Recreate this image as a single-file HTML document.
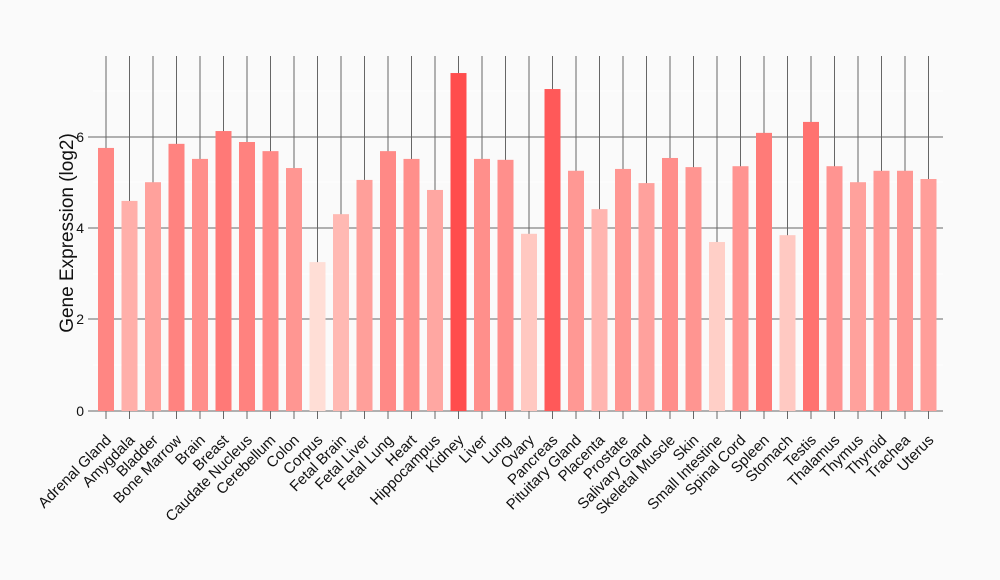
<!DOCTYPE html><html><head><style>body{margin:0;background:#fafafa}svg{display:block}text{font-family:"Liberation Sans",sans-serif;fill:#111}</style></head><body>
<svg width="1000" height="580" viewBox="0 0 1000 580">
<rect width="1000" height="580" fill="#fafafa"/>
<g stroke="#fff" stroke-width="1"><line x1="93" x2="943" y1="365" y2="365"/><line x1="93" x2="943" y1="274" y2="274"/><line x1="93" x2="943" y1="182" y2="182"/><line x1="93" x2="943" y1="91" y2="91"/></g>
<g stroke="#666" stroke-width="1">
<line x1="88" x2="943" y1="137" y2="137"/><line x1="88" x2="943" y1="228" y2="228"/><line x1="88" x2="943" y1="319" y2="319"/><line x1="88" x2="943" y1="411" y2="411"/>
<line x1="106" x2="106" y1="56" y2="419"/><line x1="129.5" x2="129.5" y1="56" y2="419"/><line x1="153" x2="153" y1="56" y2="419"/><line x1="176.5" x2="176.5" y1="56" y2="419"/><line x1="200" x2="200" y1="56" y2="419"/><line x1="223.5" x2="223.5" y1="56" y2="419"/><line x1="247" x2="247" y1="56" y2="419"/><line x1="270.5" x2="270.5" y1="56" y2="419"/><line x1="294" x2="294" y1="56" y2="419"/><line x1="317.5" x2="317.5" y1="56" y2="419"/><line x1="341" x2="341" y1="56" y2="419"/><line x1="364.5" x2="364.5" y1="56" y2="419"/><line x1="388" x2="388" y1="56" y2="419"/><line x1="411.5" x2="411.5" y1="56" y2="419"/><line x1="435" x2="435" y1="56" y2="419"/><line x1="458.5" x2="458.5" y1="56" y2="419"/><line x1="482" x2="482" y1="56" y2="419"/><line x1="505.5" x2="505.5" y1="56" y2="419"/><line x1="529" x2="529" y1="56" y2="419"/><line x1="552.5" x2="552.5" y1="56" y2="419"/><line x1="576" x2="576" y1="56" y2="419"/><line x1="599.5" x2="599.5" y1="56" y2="419"/><line x1="623" x2="623" y1="56" y2="419"/><line x1="646.5" x2="646.5" y1="56" y2="419"/><line x1="670" x2="670" y1="56" y2="419"/><line x1="693.5" x2="693.5" y1="56" y2="419"/><line x1="717" x2="717" y1="56" y2="419"/><line x1="740.5" x2="740.5" y1="56" y2="419"/><line x1="764" x2="764" y1="56" y2="419"/><line x1="787.5" x2="787.5" y1="56" y2="419"/><line x1="811" x2="811" y1="56" y2="419"/><line x1="834.5" x2="834.5" y1="56" y2="419"/><line x1="858" x2="858" y1="56" y2="419"/><line x1="881.5" x2="881.5" y1="56" y2="419"/><line x1="905" x2="905" y1="56" y2="419"/><line x1="928.5" x2="928.5" y1="56" y2="419"/>
</g>
<g transform="translate(0,411) scale(1,-45.67)">
<rect x="98" width="16" height="5.76" fill="rgb(255,134,131)"/>
<rect x="121.5" width="16" height="4.6" fill="rgb(255,175,170)"/>
<rect x="145" width="16" height="5.01" fill="rgb(255,161,156)"/>
<rect x="168.5" width="16" height="5.85" fill="rgb(255,131,128)"/>
<rect x="192" width="16" height="5.52" fill="rgb(255,143,139)"/>
<rect x="215.5" width="16" height="6.13" fill="rgb(255,121,119)"/>
<rect x="239" width="16" height="5.89" fill="rgb(255,130,127)"/>
<rect x="262.5" width="16" height="5.69" fill="rgb(255,137,134)"/>
<rect x="286" width="16" height="5.32" fill="rgb(255,150,146)"/>
<rect x="309.5" width="16" height="3.26" fill="rgb(255,222,214)"/>
<rect x="333" width="16" height="4.31" fill="rgb(255,185,179)"/>
<rect x="356.5" width="16" height="5.06" fill="rgb(255,159,154)"/>
<rect x="380" width="16" height="5.69" fill="rgb(255,137,134)"/>
<rect x="403.5" width="16" height="5.52" fill="rgb(255,143,139)"/>
<rect x="427" width="16" height="4.84" fill="rgb(255,167,162)"/>
<rect x="450.5" width="16" height="7.4" fill="rgb(255,77,77)"/>
<rect x="474" width="16" height="5.52" fill="rgb(255,143,139)"/>
<rect x="497.5" width="16" height="5.5" fill="rgb(255,143,140)"/>
<rect x="521" width="16" height="3.88" fill="rgb(255,200,193)"/>
<rect x="544.5" width="16" height="7.05" fill="rgb(255,89,89)"/>
<rect x="568" width="16" height="5.26" fill="rgb(255,152,148)"/>
<rect x="591.5" width="16" height="4.42" fill="rgb(255,181,176)"/>
<rect x="615" width="16" height="5.3" fill="rgb(255,150,146)"/>
<rect x="638.5" width="16" height="4.99" fill="rgb(255,161,157)"/>
<rect x="662" width="16" height="5.54" fill="rgb(255,142,139)"/>
<rect x="685.5" width="16" height="5.34" fill="rgb(255,149,145)"/>
<rect x="709" width="16" height="3.7" fill="rgb(255,207,199)"/>
<rect x="732.5" width="16" height="5.36" fill="rgb(255,148,145)"/>
<rect x="756" width="16" height="6.09" fill="rgb(255,123,120)"/>
<rect x="779.5" width="16" height="3.85" fill="rgb(255,201,194)"/>
<rect x="803" width="16" height="6.33" fill="rgb(255,114,112)"/>
<rect x="826.5" width="16" height="5.36" fill="rgb(255,148,145)"/>
<rect x="850" width="16" height="5.01" fill="rgb(255,161,156)"/>
<rect x="873.5" width="16" height="5.26" fill="rgb(255,152,148)"/>
<rect x="897" width="16" height="5.26" fill="rgb(255,152,148)"/>
<rect x="920.5" width="16" height="5.08" fill="rgb(255,158,154)"/>
</g>
<g font-size="14" text-anchor="end">
<text x="84" y="142">6</text><text x="84" y="233">4</text><text x="84" y="324">2</text><text x="84" y="416">0</text>
</g>
<text transform="translate(73,233) rotate(-90)" font-size="19" text-anchor="middle">Gene Expression (log2)</text>
<g font-size="15" text-anchor="end" transform="translate(4,-2)">
<text transform="translate(108,443) rotate(-45)">Adrenal Gland</text>
<text transform="translate(131.5,443) rotate(-45)">Amygdala</text>
<text transform="translate(155,443) rotate(-45)">Bladder</text>
<text transform="translate(178.5,443) rotate(-45)">Bone Marrow</text>
<text transform="translate(202,443) rotate(-45)">Brain</text>
<text transform="translate(225.5,443) rotate(-45)">Breast</text>
<text transform="translate(249,443) rotate(-45)">Caudate Nucleus</text>
<text transform="translate(272.5,443) rotate(-45)">Cerebellum</text>
<text transform="translate(296,443) rotate(-45)">Colon</text>
<text transform="translate(319.5,443) rotate(-45)">Corpus</text>
<text transform="translate(343,443) rotate(-45)">Fetal Brain</text>
<text transform="translate(366.5,443) rotate(-45)">Fetal Liver</text>
<text transform="translate(390,443) rotate(-45)">Fetal Lung</text>
<text transform="translate(413.5,443) rotate(-45)">Heart</text>
<text transform="translate(437,443) rotate(-45)">Hippocampus</text>
<text transform="translate(460.5,443) rotate(-45)">Kidney</text>
<text transform="translate(484,443) rotate(-45)">Liver</text>
<text transform="translate(507.5,443) rotate(-45)">Lung</text>
<text transform="translate(531,443) rotate(-45)">Ovary</text>
<text transform="translate(554.5,443) rotate(-45)">Pancreas</text>
<text transform="translate(578,443) rotate(-45)">Pituitary Gland</text>
<text transform="translate(601.5,443) rotate(-45)">Placenta</text>
<text transform="translate(625,443) rotate(-45)">Prostate</text>
<text transform="translate(648.5,443) rotate(-45)">Salivary Gland</text>
<text transform="translate(672,443) rotate(-45)">Skeletal Muscle</text>
<text transform="translate(695.5,443) rotate(-45)">Skin</text>
<text transform="translate(719,443) rotate(-45)">Small Intestine</text>
<text transform="translate(742.5,443) rotate(-45)">Spinal Cord</text>
<text transform="translate(766,443) rotate(-45)">Spleen</text>
<text transform="translate(789.5,443) rotate(-45)">Stomach</text>
<text transform="translate(813,443) rotate(-45)">Testis</text>
<text transform="translate(836.5,443) rotate(-45)">Thalamus</text>
<text transform="translate(860,443) rotate(-45)">Thymus</text>
<text transform="translate(883.5,443) rotate(-45)">Thyroid</text>
<text transform="translate(907,443) rotate(-45)">Trachea</text>
<text transform="translate(930.5,443) rotate(-45)">Uterus</text>
</g>
</svg>
</body></html>
